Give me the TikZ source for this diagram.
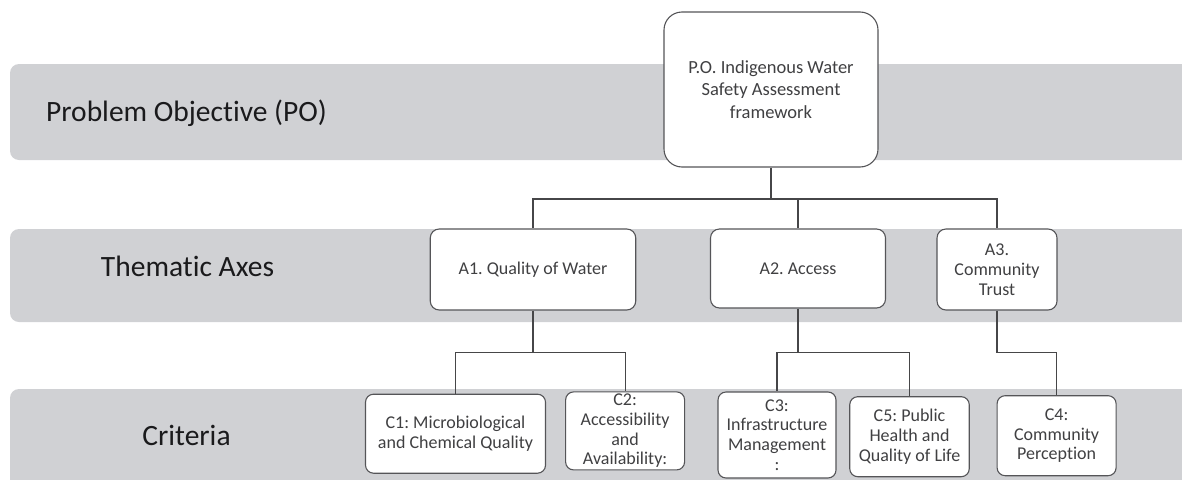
\documentclass[tikz,border=0pt]{standalone}
\usepackage{fontspec}
\setmainfont{Carlito}[Ligatures=NoCommon]
\frenchspacing
\definecolor{bandgray}{RGB}{208,209,212}
\definecolor{boxborder}{RGB}{85,85,88}
\definecolor{boxtext}{RGB}{64,64,66}
\definecolor{labelcol}{RGB}{26,26,28}
\definecolor{linecol}{RGB}{70,70,72}
\tikzset{
  lane/.style={fill=bandgray, draw=none, rounded corners=9},
  lanelabel/.style={font=\fontsize{29.5}{34}\selectfont, text=labelcol, anchor=base, inner sep=0},
  basebox/.style={draw=boxborder, line width=1.1, fill=white, align=center, inner sep=0, text=boxtext},
  pobox/.style={basebox, rounded corners=18, font=\fontsize{18.5}{22.5}\selectfont},
  axbox/.style={basebox, rounded corners=9, font=\fontsize{18}{20}\selectfont},
  cbox/.style={basebox, rounded corners=8, font=\fontsize{18}{19.6}\selectfont},
  link/.style={draw=linecol, line width=1.1}
}
\begin{document}
\begin{tikzpicture}[x=1pt,y=-1pt]
\useasboundingbox (0,0) rectangle (1182,479);
\begin{scope}
  \clip (0,0) rectangle (1182,479);
  \fill[lane] (10,64) rectangle (1200,160);
  \fill[lane] (10,229) rectangle (1200,322);
  \fill[lane] (10,389) rectangle (1200,500);
\end{scope}
% lane labels
\node[lanelabel] (lpo) at (186.5,121.7) {Problem Objective (PO)};
\node[lanelabel] (lax) at (187.5,276) {Thematic Axes};
\node[lanelabel] (lcr) at (186.5,445.7) {Criteria};
% junction levels
\coordinate (j1) at (0,199);
\coordinate (j2) at (0,352.5);
% boxes
\node[pobox, minimum width=214, minimum height=155] (po) at (771,89.5) {P.O. Indigenous Water\\Safety Assessment\\framework};
\node[axbox, minimum width=205.5, minimum height=81] (a1) at (533,269.5) {A1. Quality of Water};
\node[axbox, minimum width=175, minimum height=79] (a2) at (798,268.5) {A2. Access};
\node[axbox, minimum width=120, minimum height=81] (a3) at (997,269.5) {A3.\\Community\\Trust};
\node[cbox, minimum width=180, minimum height=79] (c1) at (455.5,433.7) {C1: Microbiological\\and Chemical Quality};
\node[cbox, minimum width=119, minimum height=78] (c2) at (625.1,430.9) {C2:\\Accessibility\\and\\Availability:};
\node[cbox, minimum width=118, minimum height=86] (c3) at (777,435) {C3:\\Infrastructure\\Management\\:};
\node[cbox, minimum width=119.5, minimum height=80] (c5) at (909.5,436.7) {C5: Public\\Health and\\Quality of Life};
\node[cbox, minimum width=119, minimum height=80] (c4) at (1056.6,435.7) {C4:\\Community\\Perception};
% connectors
\draw[link] (po.south) -- (po.south |- j1) -| (a1.north);
\draw[link] (po.south |- j1) -| (a2.north);
\draw[link] (po.south |- j1) -| (a3.north);
\draw[link] (a1.south) -- (a1.south |- j2) -| (c1.north);
\draw[link] (a1.south |- j2) -| (c2.north);
\draw[link] (a2.south) -- (a2.south |- j2) -| (c3.north);
\draw[link] (a2.south |- j2) -| (c5.north);
\draw[link] (a3.south) -- (a3.south |- j2) -| (c4.north);
\end{tikzpicture}
\end{document}
